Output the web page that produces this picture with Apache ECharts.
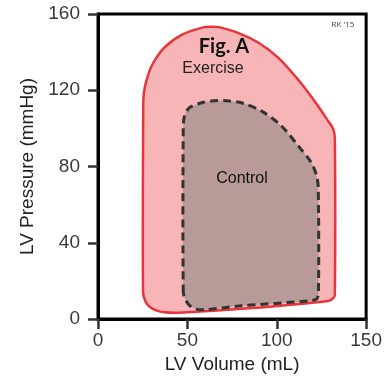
<!DOCTYPE html>
<html>
<head>
<meta charset="utf-8">
<script src="https://cdn.jsdelivr.net/npm/echarts@6/dist/echarts.min.js"></script>
<style>html,body{margin:0;padding:0;background:#fff}#c{width:385px;height:379px}</style>
</head>
<body>
<div id="c"></div>
<script>
// Exercise loop (LV volume mL, LV pressure mmHg)
const exerciseVolume = [25.2, 25.3, 25.6, 27.0, 30.4, 37.1, 47.1, 59.3, 64.0, 67.6, 78.7, 89.8, 100.9, 112.0, 121.3, 128.7, 131.6, 132.5, 132.5, 131.5, 128.7, 84.3, 45.4, 37.1, 32.6, 28.7, 26.5];
const exercisePressure = [14.0, 112.0, 118.0, 124.8, 133.5, 142.4, 149.2, 153.1, 153.3, 153.1, 150.0, 144.9, 137.0, 125.5, 114.1, 103.9, 99.6, 94.5, 12.9, 10.8, 9.5, 5.6, 3.3, 3.5, 4.5, 6.6, 9.3];
// Control loop
const controlVolume = [47.7, 47.7, 48.5, 51.1, 58.5, 65.0, 71.7, 80.7, 91.8, 102.9, 112.2, 119.0, 122.2, 123.2, 123.3, 122.2, 119.4, 78.7, 60.4, 54.8, 51.0, 48.8];
const controlPressure = [14.0, 101.5, 106.8, 110.8, 113.6, 114.5, 114.5, 113.3, 108.9, 101.0, 90.6, 82.5, 75.5, 69.0, 13.0, 10.4, 9.6, 6.8, 4.9, 5.2, 7.3, 10.4];
const xTicks = [0, 50, 100, 150];
const yTicks = [0, 40, 80, 120, 160];

const exerciseData = exerciseVolume.map((v, i) => [v, exercisePressure[i]]);
const controlData = controlVolume.map((v, i) => [v, controlPressure[i]]);

function loopSeries(data, style, z) {
  return {
    type: 'custom',
    coordinateSystem: 'cartesian2d',
    data: data,
    z: z,
    silent: true,
    renderItem: function (params, api) {
      if (params.dataIndex !== 0) return;
      const pts = data.map(p => api.coord(p));
      return { type: 'polygon', shape: { points: pts, smooth: 0.3 }, style: style };
    }
  };
}

const chart = echarts.init(document.getElementById('c'), null, { renderer: 'canvas' });
chart.setOption({
  animation: false,
  grid: { left: 98, right: 16, top: 14, bottom: 59, show: true, borderColor: '#000', borderWidth: 3 },
  xAxis: {
    type: 'value', min: xTicks[0], max: xTicks[xTicks.length - 1], interval: 50,
    name: 'LV Volume (mL)', nameLocation: 'middle', nameGap: 36,
    nameTextStyle: { fontFamily: 'Liberation Sans', fontSize: 19, color: '#222' },
    axisLine: { lineStyle: { color: '#000', width: 3 } },
    axisTick: { length: 10, lineStyle: { color: '#333', width: 2.5 } },
    axisLabel: { margin: 12, fontFamily: 'Liberation Sans', fontSize: 19, color: '#3a3a3a' },
    splitLine: { show: false }
  },
  yAxis: {
    type: 'value', min: yTicks[0], max: yTicks[yTicks.length - 1], interval: 40,
    name: 'LV Pressure (mmHg)', nameLocation: 'middle', nameGap: 57,
    nameTextStyle: { fontFamily: 'Liberation Sans', fontSize: 19, color: '#222', padding: [0, 0, 0, 0] },
    axisLine: { lineStyle: { color: '#000', width: 3 } },
    axisTick: { length: 10, lineStyle: { color: '#333', width: 2.5 } },
    axisLabel: { margin: 18, fontFamily: 'Liberation Sans', fontSize: 19, color: '#3a3a3a' },
    splitLine: { show: false }
  },
  series: [
    loopSeries(exerciseData, { fill: '#f7b5b7', stroke: '#e8353b', lineWidth: 2.5 }, 2),
    loopSeries(controlData, { fill: '#b89a98', stroke: '#333', lineWidth: 3, lineDash: [8, 5] }, 3)
  ],
  graphic: [
    { type: 'text', z: 10, style: { text: 'Fig. A', x: 224, y: 47, align: 'center', verticalAlign: 'middle', font: 'bold 20px Lato', fill: '#111' } },
    { type: 'text', z: 10, style: { text: 'Exercise', x: 213, y: 69, align: 'center', verticalAlign: 'middle', font: '16px "Liberation Sans"', fill: '#222' } },
    { type: 'text', z: 10, style: { text: 'Control', x: 242, y: 179, align: 'center', verticalAlign: 'middle', font: '16px "Liberation Sans"', fill: '#111' } },
    { type: 'text', z: 10, style: { text: "RK '15", x: 343, y: 25, align: 'center', verticalAlign: 'middle', font: '8px "Open Sans"', fill: '#444' } }
  ]
});
</script>
</body>
</html>
